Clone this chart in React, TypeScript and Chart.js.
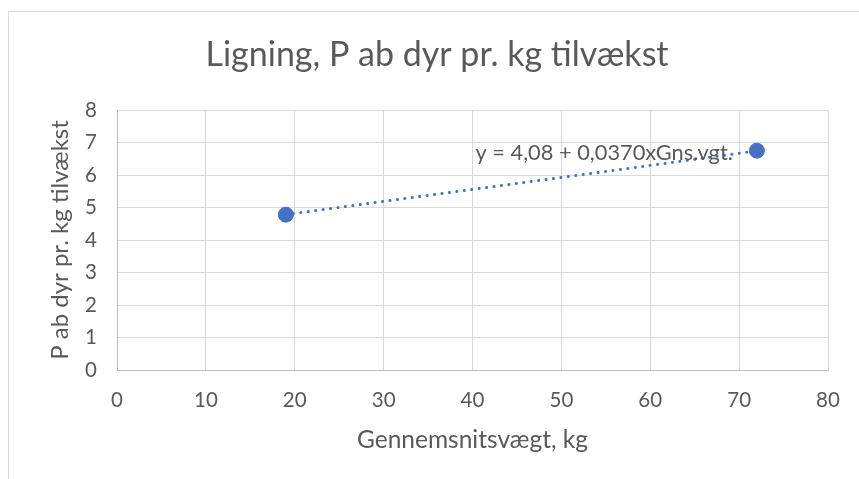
import React, { useEffect, useRef } from "react";
import { Chart, registerables } from "chart.js";

Chart.register(...registerables);

// ---- Data ----
const chartTitle = "Ligning, P ab dyr pr. kg tilvækst";
const xAxisTitle = "Gennemsnitsvægt, kg";
const yAxisTitle = "P ab dyr pr. kg tilvækst";
const pointX = [19, 72];
const pointY = [4.78, 6.75];
const trendX = [19, 72];
const trendY = [4.78, 6.74];
const equationLabel = "y = 4,08 + 0,0370xGns.vgt.";
const xMin = 0;
const xMax = 80;
const xStep = 10;
const yMin = 0;
const yMax = 8;
const yStep = 1;

// ---- Styles ----
const FONT = "Lato, 'Open Sans', sans-serif";
const TEXT = "#595959";
const BLUE = "#4472C4";
const GRID = "#d9d9d9";
const AXIS = "#bfbfbf";

const titlePlugin = {
  id: "excelTitle",
  afterDraw(chart: any) {
    const ctx = chart.ctx;
    ctx.save();
    ctx.font = `34px ${FONT}`;
    ctx.fillStyle = TEXT;
    ctx.textAlign = "center";
    ctx.textBaseline = "middle";
    ctx.fillText(chartTitle, 437, 55);
    ctx.restore();
  },
};

const equationPlugin = {
  id: "equationLabel",
  afterDatasetsDraw(chart: any) {
    const meta = chart.getDatasetMeta(0);
    const last = meta.data[meta.data.length - 1];
    if (!last) return;
    const ctx = chart.ctx;
    ctx.save();
    ctx.font = `21.8px ${FONT}`;
    ctx.fillStyle = TEXT;
    ctx.textAlign = "right";
    ctx.textBaseline = "middle";
    ctx.fillText(equationLabel, last.x - 24, last.y + 2);
    ctx.restore();
  },
};

export default function App() {
  const ref = useRef<HTMLCanvasElement | null>(null);

  useEffect(() => {
    if (!ref.current) return;
    const points = pointX.map((x, i) => ({ x, y: pointY[i] }));
    const trend = trendX.map((x, i) => ({ x, y: trendY[i] }));
    const chart = new Chart(ref.current, {
      type: "scatter",
      data: {
        datasets: [
          {
            type: "scatter",
            label: "P",
            data: points,
            backgroundColor: BLUE,
            borderColor: BLUE,
            pointRadius: 7.5,
            pointHoverRadius: 7.5,
            order: 0,
          },
          {
            type: "line",
            label: "Trend",
            data: trend,
            borderColor: BLUE,
            borderWidth: 3,
            borderDash: [0.1, 7.4],
            borderCapStyle: "round",
            pointRadius: 0,
            fill: false,
            tension: 0,
            order: 1,
          } as any,
        ],
      },
      options: {
        responsive: false,
        maintainAspectRatio: false,
        animation: false,
        layout: { padding: { left: 0, right: 31, top: 110, bottom: 0 } },
        plugins: {
          legend: { display: false },
          tooltip: { enabled: false },
          title: { display: false },
        },
        scales: {
          x: {
            type: "linear",
            min: xMin,
            max: xMax,
            ticks: {
              stepSize: xStep,
              color: TEXT,
              font: { family: FONT, size: 20.5 },
              padding: 18,
            },
            grid: { color: GRID, lineWidth: 1, drawTicks: false },
            border: { color: AXIS, width: 1 },
            title: {
              display: true,
              text: xAxisTitle,
              color: TEXT,
              font: { family: FONT, size: 24.5, lineHeight: 1.2 },
              padding: { top: 0, bottom: 24.3 },
            },
            afterFit: (s: any) => {
              s.height = 109;
            },
          },
          y: {
            type: "linear",
            min: yMin,
            max: yMax,
            ticks: {
              stepSize: yStep,
              color: TEXT,
              font: { family: FONT, size: 20.5 },
              padding: 20,
            },
            grid: { color: GRID, lineWidth: 1, drawTicks: false },
            border: { color: AXIS, width: 1 },
            title: {
              display: true,
              text: yAxisTitle,
              color: TEXT,
              font: { family: FONT, size: 24, lineHeight: 1.2 },
              padding: { top: 45.6, bottom: 0 },
            },
            afterFit: (s: any) => {
              s.width = 117;
            },
          },
        },
      },
      plugins: [titlePlugin, equationPlugin],
    });
    return () => chart.destroy();
  }, []);

  return (
    <div style={{ position: "fixed", left: 0, top: 0, width: 859, height: 479, background: "#fff" }}>
      <div
        style={{
          position: "absolute",
          left: 8,
          top: 11,
          width: 900,
          height: 520,
          borderTop: "1px solid #d9d9d9",
          borderLeft: "1px solid #d9d9d9",
          pointerEvents: "none",
        }}
      />
      <canvas ref={ref} width={859} height={479} style={{ position: "absolute", left: 0, top: 0 }} />
    </div>
  );
}
